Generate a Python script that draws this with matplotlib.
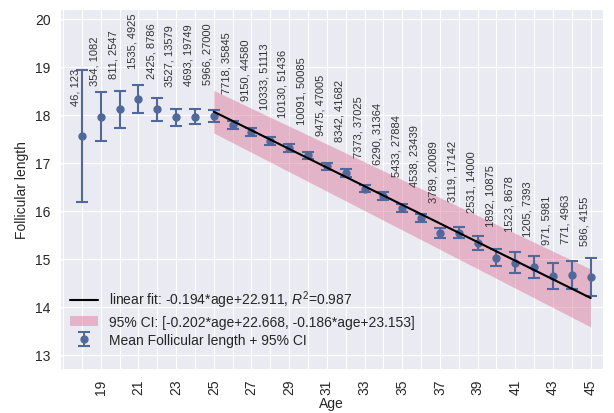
import matplotlib
matplotlib.use('Agg')
import matplotlib.pyplot as plt
import seaborn as sns
import numpy as np
from matplotlib.ticker import MultipleLocator

sns.set_style('darkgrid')
plt.rcParams['font.family'] = ['Liberation Sans', 'DejaVu Sans']
plt.rcParams['mathtext.fontset'] = 'custom'
plt.rcParams['mathtext.rm'] = 'Liberation Sans'
plt.rcParams['mathtext.it'] = 'Liberation Sans:italic'

# data
ages = list(range(18, 46))
mean_len = [17.55, 17.96, 18.11, 18.32, 18.11, 17.94, 17.96, 17.97,
            17.78, 17.64, 17.45, 17.30, 17.15, 16.92, 16.79, 16.46,
            16.31, 16.06, 15.85, 15.53, 15.54, 15.32, 15.02, 14.92,
            14.82, 14.64, 14.66, 14.62]
ci_half = [1.37, 0.52, 0.39, 0.29, 0.24, 0.18, 0.15, 0.12,
           0.09, 0.08, 0.08, 0.08, 0.08, 0.08, 0.08, 0.08,
           0.08, 0.08, 0.09, 0.10, 0.12, 0.15, 0.18, 0.21,
           0.23, 0.27, 0.29, 0.40]
counts = ['46, 123', '354, 1082', '811, 2547', '1535, 4925', '2425, 8786',
          '3527, 13579', '4693, 19749', '5966, 27000', '7718, 35845',
          '9150, 44580', '10333, 51113', '10130, 51436', '10091, 50085',
          '9475, 47005', '8342, 41682', '7373, 37025', '6290, 31364',
          '5433, 27884', '4538, 23439', '3789, 20089', '3119, 17142',
          '2531, 14000', '1892, 10875', '1523, 8678', '1205, 7393',
          '971, 5981', '771, 4963', '586, 4155']
age_ticks = list(range(19, 46, 2))

fit_slope, fit_icpt = -0.194, 22.911
lo_slope, lo_icpt = -0.202, 22.668
hi_slope, hi_icpt = -0.186, 23.153
fit_start = 25

fig = plt.figure(figsize=(6.14, 4.14), dpi=100)
ax = fig.add_subplot(111)
fig.subplots_adjust(left=0.098, right=0.982, top=0.976, bottom=0.106)

xf = np.array([a for a in ages if a >= fit_start])
ax.plot(xf, fit_slope * xf + fit_icpt, color='black', lw=1.5, zorder=4,
        label=r'linear fit: -0.194*age+22.911, $R^2$=0.987')
ax.fill_between(xf, lo_slope * xf + lo_icpt, hi_slope * xf + hi_icpt,
                color='palevioletred', alpha=0.45, lw=0, zorder=2,
                label='95% CI: [-0.202*age+22.668, -0.186*age+23.153]')
ax.errorbar(ages, mean_len, yerr=ci_half, fmt='o', color='#51699A',
            ms=5, lw=1.5, capsize=4, capthick=1.5, zorder=3,
            label='Mean Follicular length + 95% CI')

for a, m, s in zip(ages, mean_len, counts):
    ax.text(a - 0.33, m + 0.66, s, rotation=90, ha='center', va='bottom',
            fontsize=8, color='#333333')

ax.set_xlim(16.85, 45.65)
ax.set_ylim(12.7, 20.2)
ax.set_xticks(age_ticks)
ax.xaxis.set_minor_locator(MultipleLocator(1))
ax.yaxis.set_major_locator(MultipleLocator(1))
ax.grid(which='minor', color='white', lw=0.8)
ax.tick_params(axis='x', labelrotation=90, labelsize=10)
ax.tick_params(axis='y', labelsize=10)
ax.set_xlabel('Age', fontsize=10, labelpad=1)
ax.set_ylabel('Follicular length', fontsize=10)

handles, labels = ax.get_legend_handles_labels()
ax.legend(handles, labels, loc='lower left', bbox_to_anchor=(0, 0.035),
          frameon=False, fontsize=10, labelspacing=0.3, borderaxespad=0.3)

fig.savefig('out.png', dpi=100)
